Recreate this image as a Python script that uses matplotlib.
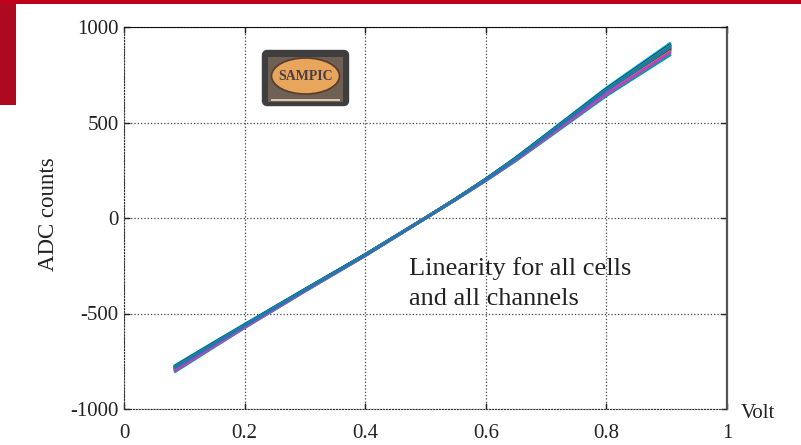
import matplotlib
matplotlib.use('Agg')
import matplotlib.pyplot as plt
from matplotlib.patches import FancyBboxPatch, Ellipse, Rectangle

# nominal transfer curve (volts -> ADC counts)
volts = [0.083, 0.15, 0.2, 0.3, 0.4, 0.5, 0.55, 0.6, 0.65, 0.7, 0.8, 0.907]
adc_nominal = [-790, -660, -565, -378, -194, 0, 98, 200, 308, 425, 660, 885]

# per-channel deviation from the nominal curve (ADC counts)
channel_offsets = [
    [14, 10, 8, 5, 3, 1, 2, 4, 8, 12, 20, 32],
    [10, 7, 5, 3, 2, 0, 1, 3, 6, 9, 15, 24],
    [6, 4, 3, 2, 1, 0, 1, 2, 4, 6, 10, 16],
    [2, 1, 1, 0, 0, 0, 0, 1, 2, 3, 5, 8],
    [-2, -1, -1, 0, 0, 0, 0, 0, 1, 1, 1, 2],
    [-5, -4, -3, -2, -1, 0, 0, -1, -1, -2, -4, -4],
    [-9, -7, -5, -3, -1, 0, -1, -2, -3, -5, -9, -12],
    [-13, -10, -7, -4, -2, -1, -2, -3, -5, -8, -14, -20],
    [-17, -13, -9, -5, -3, -1, -2, -4, -7, -11, -19, -28],
    [8, 5, 4, 2, 1, 0, 1, 2, 4, 7, 12, 20],
    [-11, -8, -6, -3, -2, 0, -1, -2, -4, -6, -11, -15],
    [4, 2, 2, 1, 0, 0, 0, 1, 2, 4, 8, 12],
]
channel_colors = ['#00bfbf', '#0000ff', '#008000', '#bf00bf', '#ff0000', '#404040',
                  '#bfbf00', '#e6e600', '#00a0a0', '#2ca02c', '#c040c0', '#1f77b4']

x_ticks = [0, 0.2, 0.4, 0.6, 0.8, 1]
x_tick_labels = ['0', '0.2', '0.4', '0.6', '0.8', '1']
y_ticks = [-1000, -500, 0, 500, 1000]
y_tick_labels = ['-1000', '-500', '0', '500', '1000']

plt.rcParams['font.family'] = ['Liberation Serif', 'DejaVu Serif']

W, H = 801, 445
fig = plt.figure(figsize=(W / 100, H / 100), dpi=100)

# slide decoration
fig.add_artist(Rectangle((0, 1 - 4 / H), 1, 4 / H, transform=fig.transFigure,
                         color='#c0001a', lw=0))
fig.add_artist(Rectangle((0, 1 - 105 / H), 16 / W, 101 / H, transform=fig.transFigure,
                         color='#ad0a20', lw=0))

ax = fig.add_axes([124 / W, 36 / H, 603 / W, 382 / H])

for offs, col in zip(channel_offsets, channel_colors):
    ys = [a + o for a, o in zip(adc_nominal, offs)]
    ax.plot(volts, ys, color=col, linewidth=2.2, solid_capstyle='butt')

ax.set_xlim(0, 1)
ax.set_ylim(-1000, 1000)
ax.set_xticks(x_ticks)
ax.set_xticklabels(x_tick_labels)
ax.set_yticks(y_ticks)
ax.set_yticklabels(y_tick_labels)
ax.tick_params(direction='in', length=4, width=1, labelsize=15, colors='#222222',
               top=True, right=True)
ax.tick_params(axis='x', pad=11)
ax.tick_params(axis='y', pad=4)
ax.grid(True, linestyle=':', color='#444444', linewidth=0.9)
for side in ['left', 'bottom']:
    ax.spines[side].set_linestyle(':')
    ax.spines[side].set_color('#333333')
ax.spines['top'].set_color('#111111')
ax.spines['right'].set_color('#555555')
ax.spines['right'].set_linewidth(1.6)

fig.text(48 / W, 1 - 214 / H, 'ADC counts', fontsize=16.5, color='#222222',
         rotation=90, ha='center', va='center')
fig.text(741 / W, 1 - 413 / H, 'Volt', fontsize=15, color='#222222', va='center')

ax.text(0.472, 0.398, 'Linearity for all cells\nand all channels', transform=ax.transAxes,
        fontsize=19, color='#222222', va='top', linespacing=1.45)

# SAMPIC logo
lx0, ly0, lw, lh = 261, 49, 89, 58
lax = fig.add_axes([lx0 / W, 1 - (ly0 + lh) / H, lw / W, lh / H])
lax.set_xlim(0, lw)
lax.set_ylim(0, lh)
lax.axis('off')
lax.add_patch(FancyBboxPatch((1.5, 1.5), lw - 3, lh - 3, boxstyle='round,pad=0,rounding_size=5',
                             facecolor='#3e3e3e', edgecolor='#3e3e3e'))
lax.add_patch(Rectangle((7, 5), lw - 14, lh - 13, facecolor='#6e6052', lw=0))
lax.add_patch(Ellipse((lw / 2, lh / 2 + 2), 68, 36, facecolor='#e8a65c',
                      edgecolor='#5a3a2a', lw=1.2))
lax.text(lw / 2, lh / 2 + 1, 'SAMPIC', ha='center', va='center', fontsize=10,
         fontweight='bold', color='#4a3c46')
lax.add_patch(Rectangle((10, 6), lw - 20, 2, facecolor='#d8c8b0', lw=0))

fig.savefig('out.png', dpi=100)
